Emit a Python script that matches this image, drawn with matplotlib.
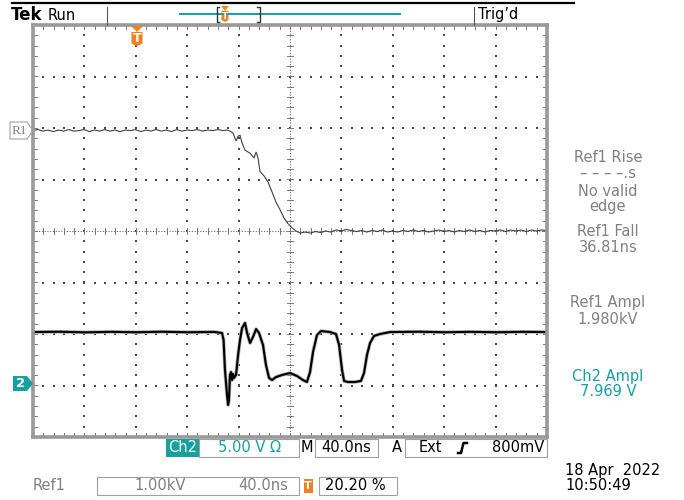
import matplotlib
matplotlib.use('Agg')
import matplotlib.pyplot as plt
from matplotlib.patches import Rectangle, Polygon
import numpy as np

# scope settings
NS_PER_DIV = 40.0
T_LEFT = -80.8          # ns at left edge of screen (trigger at 20.2 %)
REF1_KV_PER_DIV = 1.0
REF1_OFFSET_DIV = 0.0
CH2_V_PER_DIV = 5.0
CH2_GROUND_DIV = -3.0

# Ref1 trace (ns, kV)
ref1_pts = [(-80.8, 1.95), (-77, 1.97), (-73, 1.94), (-69, 1.96), (-65, 1.93), (-61, 1.96),
            (-57, 1.94), (-53, 1.97), (-49, 1.94), (-45, 1.95), (-41, 1.97), (-37, 1.93),
            (-33, 1.96), (-29, 1.94), (-25, 1.97), (-21, 1.94), (-17, 1.96), (-13, 1.93),
            (-9, 1.96), (-5, 1.95), (-1, 1.97), (3, 1.93), (7, 1.96), (11, 1.94), (15, 1.97),
            (19, 1.94), (23, 1.96), (27, 1.93), (31, 1.97), (35, 1.94), (39, 1.96), (43, 1.95),
            (47, 1.97), (51, 1.94), (55, 1.96), (59, 1.95), (63, 1.97), (67, 1.95), (70, 1.96),
            (72.5, 1.94), (74.9, 1.90), (77.2, 1.75), (78.8, 1.84), (80.3, 1.86), (81.9, 1.71),
            (84.2, 1.57), (88.1, 1.51), (91.2, 1.42), (92.8, 1.53), (94.3, 1.42), (95.9, 1.15),
            (99.0, 1.07), (102.1, 0.95), (105.2, 0.76), (108.3, 0.56), (111.5, 0.41),
            (114.6, 0.25), (117.7, 0.14), (120.8, 0.06), (123.9, 0.0), (127.0, -0.04),
            (131, -0.02), (135, -0.04), (139, -0.01), (143, -0.03), (147, 0.0), (151, -0.02),
            (155, 0.02), (159, 0.0), (163, 0.03), (167, 0.01), (171, -0.01), (175, 0.01),
            (179, -0.02), (183, 0.01), (187, -0.01), (191, 0.02), (195, -0.02), (199, 0.0),
            (203, -0.02), (207, 0.01), (211, -0.01), (215, 0.02), (219, -0.01), (223, 0.01),
            (227, -0.02), (231, 0.0), (235, 0.02), (239, -0.01), (243, 0.01), (247, -0.02),
            (251, 0.01), (255, -0.01), (259, 0.02), (263, -0.01), (267, 0.01), (271, -0.02),
            (275, 0.01), (279, 0.0), (283, 0.02), (287, -0.01), (291, 0.02), (295, 0.0),
            (299, 0.02), (303, -0.01), (307, 0.02), (311, 0.0), (315, 0.02), (319.2, 0.01)]

# Ch2 trace (ns, V)
ch2_pts = [(-80.8, 5.19), (-60, 5.22), (-40, 5.16), (-20, 5.21), (0, 5.17), (20, 5.22),
           (40, 5.17), (60, 5.2), (66.3, 5.10), (67.5, 4.42), (68.6, 1.51), (70.2, -0.92),
           (71.0, -1.89), (71.7, -1.41), (72.5, 1.02), (73.3, 1.31), (74.1, 0.53), (74.9, 1.12),
           (75.6, 0.73), (77.2, 1.02), (78.8, 2.96), (80.3, 4.42), (81.9, 5.58), (84.2, 6.07),
           (85.8, 5.10), (88.1, 4.13), (90.4, 4.71), (92.8, 5.48), (95.1, 5.10), (98.2, 3.93),
           (100.5, 1.99), (102.9, 0.73), (105.2, 0.53), (108.3, 0.82), (113.0, 1.02),
           (119.2, 1.21), (124.7, 0.92), (129.3, 0.53), (132.4, 0.34), (134.8, 1.31),
           (137.1, 3.25), (140.2, 4.90), (143.3, 5.29), (150.3, 5.19), (155.0, 5.00),
           (157.4, 3.93), (159.7, 1.51), (161.3, 0.44), (164.4, 0.34), (169.8, 0.34),
           (174.4, 0.44), (176.8, 1.21), (179.1, 2.96), (181.5, 4.13), (184.6, 4.81),
           (189.3, 5.00), (197.0, 5.19), (220, 5.22), (240, 5.17), (260, 5.21), (280, 5.17),
           (300, 5.21), (319.2, 5.19)]

meas_labels = ['Ref1 Rise', '– – – –.s', 'No valid', 'edge', 'Ref1 Fall', '36.81ns',
               'Ref1 Ampl', '1.980kV', 'Ch2 Ampl', '7.969 V']
meas_y = [158, 173, 191, 207, 231, 247, 303, 319, 377, 392]

GRAY = '#808080'
TEAL = '#17a0a0'
ORANGE = '#f08020'

plt.rcParams['font.family'] = ['DejaVu Sans']

fig = plt.figure(figsize=(6.84, 5.0), dpi=100)
ax = fig.add_axes([33 / 684, 63 / 500, 514 / 684, 412 / 500])
ax.set_xlim(0, 10)
ax.set_ylim(-4, 4)
ax.set_xticks([])
ax.set_yticks([])
for s in ax.spines.values():
    s.set_color('#999999')
    s.set_linewidth(2.6)

# graticule dots
fine = np.arange(0, 10.01, 0.2)
fine_y = np.arange(-4, 4.01, 0.2)
for i in range(1, 10):
    if i != 5:
        ax.scatter(np.full(len(fine_y), i), fine_y, s=1.3, marker='s', color='#4a4a4a', lw=0)
for j in range(-3, 4):
    if j != 0:
        ax.scatter(fine, np.full(len(fine), j), s=1.3, marker='s', color='#4a4a4a', lw=0)
# center cross
ax.plot([0, 10], [0, 0], color='#666666', lw=0.8, ls=(0, (1, 1.5)))
ax.plot([5, 5], [-4, 4], color='#666666', lw=0.8, ls=(0, (1, 1.5)))
for x in fine:
    ax.plot([x, x], [-0.06, 0.06], color='#777777', lw=0.7)
    ax.plot([x, x], [-4, -3.92], color='#777777', lw=0.7)
    ax.plot([x, x], [4, 3.92], color='#777777', lw=0.7)
for y in fine_y:
    ax.plot([4.94, 5.06], [y, y], color='#777777', lw=0.7)
    ax.plot([0, 0.08], [y, y], color='#777777', lw=0.7)
    ax.plot([10, 9.92], [y, y], color='#777777', lw=0.7)

# traces
r = np.array(ref1_pts)
ax.plot((r[:, 0] - T_LEFT) / NS_PER_DIV, r[:, 1] / REF1_KV_PER_DIV + REF1_OFFSET_DIV,
        color='#404040', lw=0.8)
c = np.array(ch2_pts)
ax.plot((c[:, 0] - T_LEFT) / NS_PER_DIV, c[:, 1] / CH2_V_PER_DIV + CH2_GROUND_DIV,
        color='#b0b0b0', lw=2.6, solid_joinstyle='round')
ax.plot((c[:, 0] - T_LEFT) / NS_PER_DIV, c[:, 1] / CH2_V_PER_DIV + CH2_GROUND_DIV,
        color='black', lw=1.5, solid_joinstyle='round')

# overlay in pixel units for the screen furniture
ov = fig.add_axes([0, 0, 1, 1], zorder=3)
ov.set_xlim(0, 684)
ov.set_ylim(500, 0)
ov.axis('off')
ov.patch.set_alpha(0)

ov.plot([12, 574], [2.5, 2.5], color='black', lw=1.6)
ov.text(11, 15, 'Tek', fontsize=12, fontweight='bold', va='center')
ov.text(48, 15, 'Run', fontsize=10.5, va='center')
ov.plot([107, 107], [7, 25], color='#555555', lw=0.8)
ov.plot([474, 474], [7, 25], color='#555555', lw=0.8)
ov.text(478, 15, 'Trig’d', fontsize=10.5, va='center')
ov.plot([180, 400], [14, 14], color=TEAL, lw=1.4)
ov.plot([219, 216.5, 216.5, 219], [7, 7, 22, 22], color='#333333', lw=1)
ov.plot([257, 259.5, 259.5, 257], [7, 7, 22, 22], color='#333333', lw=1)


def trig_marker(xc, ytop, w, h, fs):
    ov.add_patch(Polygon([(xc - w * 0.55, ytop), (xc + w * 0.55, ytop), (xc, ytop + h * 0.3)],
                         closed=True, color=ORANGE, lw=0))
    body = [(xc - w / 2, ytop + h * 0.3), (xc + w / 2, ytop + h * 0.3), (xc + w / 2, ytop + h * 0.88),
            (xc, ytop + h), (xc - w / 2, ytop + h * 0.88)]
    ov.add_patch(Polygon(body, closed=True, color=ORANGE, lw=0))
    ov.text(xc, ytop + h * 0.63, 'T', color='white', fontsize=fs, fontweight='bold',
            ha='center', va='center')


trig_marker(225, 6, 7, 16, 6.5)
trig_marker(137, 26, 11, 20, 9)

# channel markers
ov.add_patch(Polygon([(10, 122), (27, 122), (33, 130.5), (27, 139), (10, 139)], closed=True,
                     fill=False, edgecolor='#a0a0a0', lw=0.8))
ov.text(19, 130.5, 'R1', color=GRAY, fontsize=9.5, ha='center', va='center', family='Liberation Serif')
ov.add_patch(Polygon([(13, 376), (27, 376), (33, 383.5), (27, 391), (13, 391)], closed=True,
                     color=TEAL, lw=0))
ov.text(21, 383.5, '2', color='white', fontsize=9.5, fontweight='bold', ha='center', va='center')

# measurement readouts
for lab, yy in zip(meas_labels, meas_y):
    ov.text(608, yy, lab, color=TEAL if lab.startswith('Ch2') or lab.endswith(' V') else GRAY,
            fontsize=10.5, ha='center', va='center')

# bottom status line
ov.add_patch(Rectangle((166, 439), 33, 18, color=TEAL, lw=0))
ov.text(182.5, 448, 'Ch2', color='white', fontsize=10.5, ha='center', va='center')
ov.add_patch(Rectangle((199, 439), 100, 18, fill=False, edgecolor='#a0a0a0', lw=0.8))
ov.text(249, 448, '5.00 V Ω', color=TEAL, fontsize=10.5, ha='center', va='center')
ov.text(307, 448, 'M', fontsize=10.5, ha='center', va='center')
ov.add_patch(Rectangle((315, 439), 63, 18, fill=False, edgecolor='#a0a0a0', lw=0.8))
ov.text(346.5, 448, '40.0ns', fontsize=10.5, ha='center', va='center')
ov.text(397, 448, 'A', fontsize=10.5, ha='center', va='center')
ov.add_patch(Rectangle((405, 439), 142, 18, fill=False, edgecolor='#a0a0a0', lw=0.8))
ov.text(430, 448, 'Ext', fontsize=10.5, ha='center', va='center')
ov.plot([458, 461, 463.5, 467], [453, 453, 443, 443], color='black', lw=1.8)
ov.text(518, 448, '800mV', fontsize=10.5, ha='center', va='center')

ov.text(33, 486, 'Ref1', color=GRAY, fontsize=10.5, va='center')
ov.add_patch(Rectangle((97, 477), 202, 18, fill=False, edgecolor='#a0a0a0', lw=0.8))
ov.text(160, 486, '1.00kV', color=GRAY, fontsize=10.5, ha='center', va='center')
ov.text(263, 486, '40.0ns', color=GRAY, fontsize=10.5, ha='center', va='center')
ov.add_patch(Rectangle((303.5, 479), 9, 14, color=ORANGE, lw=0))
ov.text(308, 486, 'T', color='white', fontsize=8, fontweight='bold', ha='center', va='center')
ov.add_patch(Rectangle((319, 477), 78, 18, fill=False, edgecolor='#a0a0a0', lw=0.8))
ov.text(355, 486, '20.20 %', fontsize=10.5, ha='center', va='center')
ov.text(565, 470, '18 Apr  2022', fontsize=10.5, va='center')
ov.text(565, 486, '10:50:49', fontsize=10.5, va='center')

fig.savefig('out.png', dpi=100)
